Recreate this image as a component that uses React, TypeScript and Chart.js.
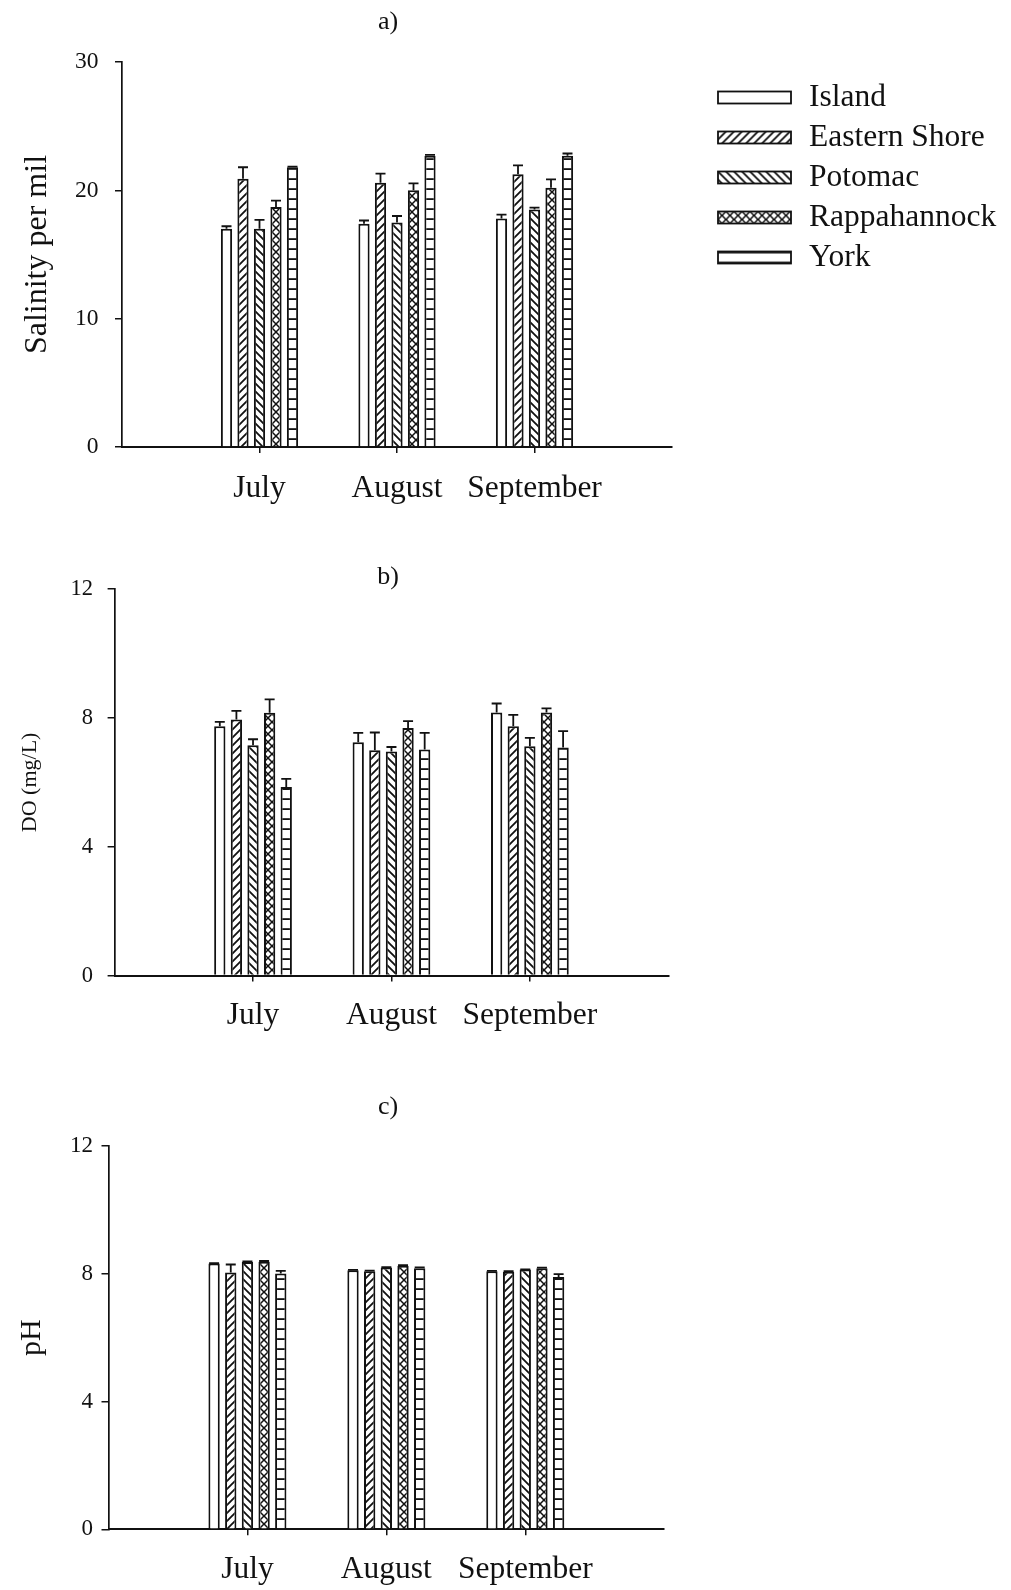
import React, { useEffect, useRef } from 'react';
import { Chart, registerables } from 'chart.js';

Chart.register(...registerables);

// ---- data -------------------------------------------------------------
const months = ['July', 'August', 'September'];
const sites = ['Island', 'Eastern Shore', 'Potomac', 'Rappahannock', 'York'];

// a) salinity (per mil): means and upper error (SE) per site, July–September
const salIsland = [17.0, 17.4, 17.8];
const salEastern = [20.9, 20.6, 21.25];
const salPotomac = [17.0, 17.5, 18.5];
const salRappahannock = [18.7, 20.0, 20.2];
const salYork = [21.8, 22.7, 22.7];
const salIslandErr = [0.2, 0.25, 0.3];
const salEasternErr = [0.9, 0.7, 0.7];
const salPotomacErr = [0.7, 0.5, 0.15];
const salRappahannockErr = [0.5, 0.55, 0.65];
const salYorkErr = [0.05, 0.07, 0.17];

// b) dissolved oxygen (mg/L)
const doIsland = [7.74, 7.25, 8.17];
const doEastern = [7.95, 7.0, 7.74];
const doPotomac = [7.15, 6.96, 7.12];
const doRappahannock = [8.16, 7.69, 8.17];
const doYork = [5.86, 7.02, 7.08];
const doIslandErr = [0.14, 0.29, 0.28];
const doEasternErr = [0.27, 0.55, 0.36];
const doPotomacErr = [0.19, 0.14, 0.26];
const doRappahannockErr = [0.42, 0.21, 0.13];
const doYorkErr = [0.25, 0.52, 0.51];

// c) pH
const phIsland = [8.32, 8.11, 8.08];
const phEastern = [8.04, 8.08, 8.06];
const phPotomac = [8.37, 8.2, 8.13];
const phRappahannock = [8.38, 8.25, 8.17];
const phYork = [8.01, 8.17, 7.9];
const phIslandErr = [0.01, 0.01, 0.01];
const phEasternErr = [0.25, 0.02, 0.02];
const phPotomacErr = [0.02, 0.01, 0.01];
const phRappahannockErr = [0.02, 0.02, 0.02];
const phYorkErr = [0.08, 0.03, 0.09];

// y-axis ticks
const salinityTicks = [0, 10, 20, 30];
const doTicks = [0, 4, 8, 12];
const phTicks = [0, 4, 8, 12];

// ---- styling ------------------------------------------------------------
const SERIF = "'Liberation Serif', 'Times New Roman', Times, serif";
const INK = '#111111';
const siteHatch = ['plain', 'forward', 'back', 'cross', 'horizontal'];

function makeHatch(kind: string): CanvasPattern | string {
  if (kind === 'plain') return '#ffffff';
  const size = kind === 'horizontal' ? 10 : 8;
  const c = document.createElement('canvas');
  c.width = size;
  c.height = size;
  const g = c.getContext('2d')!;
  g.fillStyle = '#ffffff';
  g.fillRect(0, 0, size, size);
  g.strokeStyle = INK;
  g.lineWidth = kind === 'cross' ? 1.5 : 1.8;
  const forward = () => {
    g.beginPath();
    g.moveTo(-1, size + 1);
    g.lineTo(size + 1, -1);
    g.moveTo(-2, 2);
    g.lineTo(2, -2);
    g.moveTo(size - 2, size + 2);
    g.lineTo(size + 2, size - 2);
    g.stroke();
  };
  const back = () => {
    g.beginPath();
    g.moveTo(-1, -1);
    g.lineTo(size + 1, size + 1);
    g.moveTo(size - 2, -2);
    g.lineTo(size + 2, 2);
    g.moveTo(-2, size - 2);
    g.lineTo(2, size + 2);
    g.stroke();
  };
  if (kind === 'forward') forward();
  if (kind === 'back') back();
  if (kind === 'cross') {
    forward();
    back();
  }
  if (kind === 'horizontal') {
    g.fillStyle = INK;
    g.fillRect(0, size - 1.8, size, 1.8);
  }
  return g.createPattern(c, 'repeat')!;
}

// upper error whiskers with caps, positioned through the y scale
const errorBars = {
  id: 'errorBars',
  afterDatasetsDraw(chart: any) {
    const { ctx } = chart;
    const y = chart.scales.y;
    chart.data.datasets.forEach((ds: any, di: number) => {
      const meta = chart.getDatasetMeta(di);
      meta.data.forEach((bar: any, i: number) => {
        const v = ds.data[i];
        const e = ds.errors ? ds.errors[i] : null;
        if (v == null || e == null) return;
        const top = y.getPixelForValue(v + e);
        ctx.save();
        ctx.strokeStyle = INK;
        ctx.lineWidth = 1.8;
        ctx.beginPath();
        ctx.moveTo(bar.x, bar.y);
        ctx.lineTo(bar.x, top);
        ctx.moveTo(bar.x - 5, top);
        ctx.lineTo(bar.x + 5, top);
        ctx.stroke();
        ctx.restore();
      });
    });
  },
};

// panel caption such as "a)"
const panelLabel = {
  id: 'panelLabel',
  afterDraw(chart: any, _args: any, opts: any) {
    if (!opts || !opts.text) return;
    const { ctx } = chart;
    ctx.save();
    ctx.fillStyle = INK;
    ctx.font = `${opts.size}px ${SERIF}`;
    ctx.textAlign = 'center';
    ctx.textBaseline = 'middle';
    ctx.fillText(opts.text, opts.x, opts.y);
    ctx.restore();
  },
};

// site key with hatched swatches
const siteKey = {
  id: 'siteKey',
  afterDraw(chart: any, _args: any, opts: any) {
    if (!opts || !opts.show) return;
    const { ctx } = chart;
    chart.data.datasets.forEach((ds: any, i: number) => {
      const cy = opts.y + i * opts.gap;
      ctx.save();
      // shift the horizontal-line fill so its rule falls on the swatch edge
      ctx.translate(opts.x, cy - 6 + (i === 4 ? 2 : 0));
      ctx.fillStyle = ds.backgroundColor;
      ctx.fillRect(0, i === 4 ? -2 : 0, 73, 12);
      ctx.restore();
      ctx.save();
      ctx.strokeStyle = INK;
      ctx.lineWidth = 1.8;
      ctx.strokeRect(opts.x, cy - 6, 73, 12);
      ctx.fillStyle = INK;
      ctx.font = `${opts.size}px ${SERIF}`;
      ctx.textAlign = 'left';
      ctx.textBaseline = 'middle';
      ctx.fillText(ds.label, opts.textX, cy);
      ctx.restore();
    });
  },
};

type PanelProps = {
  top: number;
  height: number;
  series: number[][];
  errors: number[][];
  ticks: number[];
  yTitle: string;
  yTitleSize: number;
  yTitlePad: number;
  tickSize: number;
  yTickPad: number;
  xTickPad: number;
  plotLeft: number;
  plotRight: number;
  plotTop: number;
  plotBottom: number;
  caption: string;
  captionY: number;
  showKey?: boolean;
};

const W = 1011;

function BarPanel(p: PanelProps) {
  const ref = useRef<HTMLCanvasElement | null>(null);

  useEffect(() => {
    if (!ref.current) return;
    const xAxisH = 62;
    const labels = ['', ...months, ''];
    const datasets = sites.map((name, s) => ({
      label: name,
      data: [null, ...p.series[s], null],
      errors: [null, ...p.errors[s], null],
      backgroundColor: makeHatch(siteHatch[s]),
      borderColor: INK,
      borderWidth: 2,
      categoryPercentage: 0.6,
      barPercentage: 0.68,
    }));
    const yMax = p.ticks[p.ticks.length - 1];
    const step = p.ticks[1] - p.ticks[0];

    const chart = new Chart(ref.current, {
      type: 'bar',
      data: { labels, datasets } as any,
      plugins: [errorBars, panelLabel, siteKey],
      options: {
        animation: false,
        responsive: false,
        maintainAspectRatio: false,
        layout: {
          padding: {
            left: 0,
            right: W - p.plotRight,
            top: p.plotTop,
            bottom: p.height - p.plotBottom - xAxisH,
          },
        },
        plugins: {
          legend: { display: false },
          tooltip: { enabled: false },
          panelLabel: { text: p.caption, x: 388, y: p.captionY, size: 26 },
          siteKey: { show: !!p.showKey, x: 718, y: 97.5, gap: 40, textX: 809, size: 31.5 },
        } as any,
        scales: {
          x: {
            type: 'category',
            offset: false,
            grid: {
              display: true,
              offset: false,
              drawOnChartArea: false,
              drawTicks: true,
              tickLength: 6,
              lineWidth: 1.5,
              tickColor: (c: any) =>
                c.index === 0 || c.index === labels.length - 1 ? 'rgba(0,0,0,0)' : INK,
            },
            border: { display: true, color: INK, width: 2 },
            ticks: {
              color: INK,
              font: { family: SERIF, size: 31.5, lineHeight: 1 },
              padding: p.xTickPad,
              maxRotation: 0,
              autoSkip: false,
            },
            afterFit: (s: any) => {
              s.height = xAxisH;
            },
          },
          y: {
            min: 0,
            max: yMax,
            grid: {
              display: true,
              drawOnChartArea: false,
              drawTicks: true,
              tickLength: 7,
              lineWidth: 1.5,
              tickColor: INK,
            },
            border: { display: true, color: INK, width: 1.7 },
            ticks: {
              stepSize: step,
              color: INK,
              font: { family: SERIF, size: p.tickSize, lineHeight: 1 },
              padding: p.yTickPad,
            },
            title: {
              display: true,
              text: p.yTitle,
              color: INK,
              font: { family: SERIF, size: p.yTitleSize, lineHeight: 1 },
              padding: { top: p.yTitlePad, bottom: 0 },
            },
            afterFit: (s: any) => {
              s.width = p.plotLeft;
            },
          },
        },
      } as any,
    });
    return () => chart.destroy();
  }, []);

  return (
    <canvas
      ref={ref}
      width={W}
      height={p.height}
      style={{ position: 'absolute', left: 0, top: p.top, width: W, height: p.height }}
    />
  );
}

export default function App() {
  return (
    <div
      style={{
        position: 'absolute',
        left: 0,
        top: 0,
        width: W,
        height: 1590,
        background: '#ffffff',
        overflow: 'hidden',
      }}
    >
      <BarPanel
        top={0}
        height={530}
        series={[salIsland, salEastern, salPotomac, salRappahannock, salYork]}
        errors={[salIslandErr, salEasternErr, salPotomacErr, salRappahannockErr, salYorkErr]}
        ticks={salinityTicks}
        yTitle="Salinity per mil"
        yTitleSize={32}
        yTitlePad={21.5}
        tickSize={23.5}
        yTickPad={16.5}
        xTickPad={20}
        plotLeft={122}
        plotRight={672}
        plotTop={62}
        plotBottom={447}
        caption="a)"
        captionY={22.5}
        showKey
      />
      <BarPanel
        top={530}
        height={530}
        series={[doIsland, doEastern, doPotomac, doRappahannock, doYork]}
        errors={[doIslandErr, doEasternErr, doPotomacErr, doRappahannockErr, doYorkErr]}
        ticks={doTicks}
        yTitle="DO (mg/L)"
        yTitleSize={22}
        yTitlePad={19}
        tickSize={22.5}
        yTickPad={14.5}
        xTickPad={18}
        plotLeft={114.6}
        plotRight={668.3}
        plotTop={59.2}
        plotBottom={445.6}
        caption="b)"
        captionY={47}
      />
      <BarPanel
        top={1060}
        height={530}
        series={[phIsland, phEastern, phPotomac, phRappahannock, phYork]}
        errors={[phIslandErr, phEasternErr, phPotomacErr, phRappahannockErr, phYorkErr]}
        ticks={phTicks}
        yTitle="pH"
        yTitleSize={30}
        yTitlePad={17.5}
        tickSize={23}
        yTickPad={8.5}
        xTickPad={19}
        plotLeft={108.5}
        plotRight={664.2}
        plotTop={86}
        plotBottom={469.3}
        caption="c)"
        captionY={47.4}
      />
    </div>
  );
}
